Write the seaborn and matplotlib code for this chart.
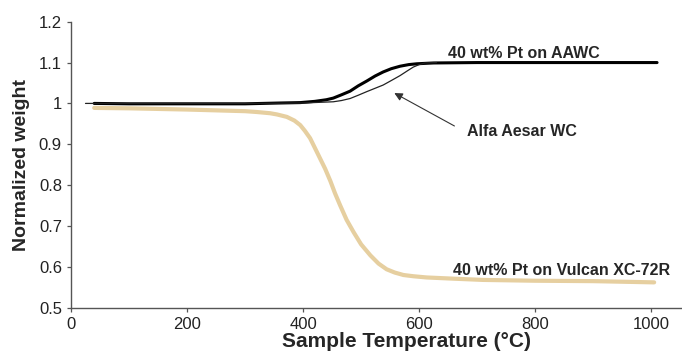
import numpy as np
import pandas as pd
import matplotlib
matplotlib.use("Agg")
import matplotlib.pyplot as plt
import seaborn as sns

# --- data ---
vulcan_T = [40, 100, 200, 300, 320, 343, 355, 372, 385, 395, 403, 412, 420, 429, 438, 447, 455, 464,
            475, 487, 500, 516, 530, 544, 558, 573, 590, 613, 660, 710, 800, 900, 1005]
vulcan_W = [0.989, 0.988, 0.985, 0.981, 0.979, 0.976, 0.973, 0.967, 0.958, 0.947, 0.933, 0.915, 0.892,
            0.866, 0.840, 0.810, 0.780, 0.750, 0.715, 0.685, 0.655, 0.628, 0.608, 0.594, 0.586, 0.580,
            0.577, 0.574, 0.571, 0.568, 0.566, 0.565, 0.562]

aawc_T = [40, 100, 200, 300, 360, 395, 420, 440, 452, 466, 481, 495, 510, 524, 538, 552, 567, 582,
          596, 610, 625, 700, 800, 900, 1010]
aawc_W = [1.0, 0.999, 0.999, 0.999, 1.001, 1.002, 1.005, 1.009, 1.013, 1.021, 1.030, 1.043, 1.055,
          1.067, 1.077, 1.085, 1.091, 1.095, 1.097, 1.098, 1.099, 1.1, 1.1, 1.1, 1.1]

wc_T = [25, 100, 200, 300, 400, 452, 466, 481, 495, 510, 524, 538, 552, 567, 580, 590, 600, 610, 630]
wc_W = [1.0, 1.0, 1.0, 1.0, 1.001, 1.004, 1.007, 1.012, 1.020, 1.029, 1.037, 1.045, 1.056, 1.068,
        1.080, 1.089, 1.095, 1.099, 1.1]

x_ticks = [0, 200, 400, 600, 800, 1000]
y_ticks = [0.5, 0.6, 0.7, 0.8, 0.9, 1.0, 1.1, 1.2]
y_tick_labels = ["0.5", "0.6", "0.7", "0.8", "0.9", "1", "1.1", "1.2"]

label_aawc = "40 wt% Pt on AAWC"
label_wc = "Alfa Aesar WC"
label_vulcan = "40 wt% Pt on Vulcan XC-72R"

sns.set_style("ticks")
plt.rcParams['font.family'] = ['Liberation Sans', 'DejaVu Sans']

fig = plt.figure(figsize=(6.82, 3.6), dpi=100)
ax = fig.add_axes([71 / 682, 1 - 307.7 / 360, 1 - 71 / 682, (307.7 - 21.7) / 360])

df_v = pd.DataFrame({"T": vulcan_T, "W": vulcan_W})
df_a = pd.DataFrame({"T": aawc_T, "W": aawc_W})
df_w = pd.DataFrame({"T": wc_T, "W": wc_W})

sns.lineplot(data=df_v, x="T", y="W", ax=ax, color="#E6CFA0", lw=3.0, sort=True)
sns.lineplot(data=df_a, x="T", y="W", ax=ax, color="black", lw=2.2, sort=True)
sns.lineplot(data=df_w, x="T", y="W", ax=ax, color="#222222", lw=0.9, sort=True)
for ln in ax.lines:
    ln.set_solid_joinstyle('round')
    ln.set_solid_capstyle('round')

ax.set_xlim(0, 1053)
ax.set_ylim(0.5, 1.2)
ax.set_xticks(x_ticks)
ax.set_yticks(y_ticks)
ax.set_yticklabels(y_tick_labels)
ax.tick_params(axis='both', labelsize=12, length=3, width=0.9, color='#555555',
               labelcolor='#222222', direction='out', pad=3.5)

for s in ['top', 'right']:
    ax.spines[s].set_visible(False)
for s in ['left', 'bottom']:
    ax.spines[s].set_color('#555555')
    ax.spines[s].set_linewidth(1.0)

ax.set_xlabel("Sample Temperature (°C)", fontsize=15, fontweight='bold', va='center')
ax.set_ylabel("Normalized weight", fontsize=14, fontweight='bold', va='center')
ax.xaxis.set_label_coords((407 - 71) / 611, (307.7 - 341.7) / 286)
ax.yaxis.set_label_coords((21.7 - 71) / 611, 0.5)

ax.text(780, 1.1225, label_aawc, fontsize=11.5, fontweight='bold', ha='center', va='center')
ax.text(777, 0.931, label_wc, fontsize=11.5, fontweight='bold', ha='center', va='center')
ax.text(846, 0.592, label_vulcan, fontsize=11.5, fontweight='bold', ha='center', va='center')

ax.annotate('', xy=(553, 1.0286), xytext=(665, 0.9415),
            arrowprops=dict(arrowstyle='-|>', color='#333333', lw=0.8, mutation_scale=12))

fig.savefig("out.png", dpi=100)
